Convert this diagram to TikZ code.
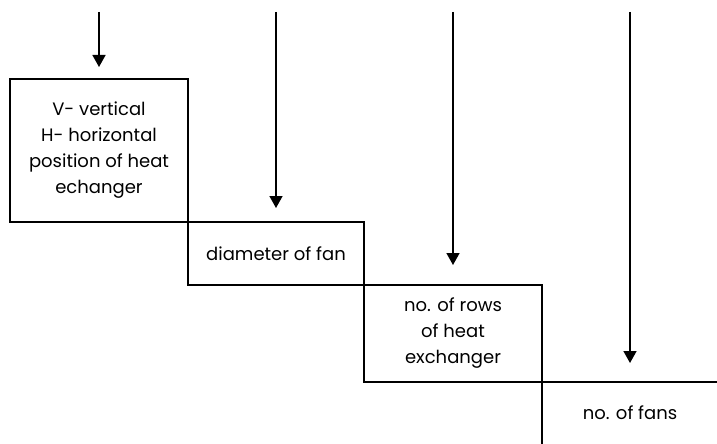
\documentclass[tikz,border=0pt]{standalone}
\usepackage{fontspec}
\setmainfont{Poppins}
\usepackage{tikz}
\usetikzlibrary{arrows.meta}
\usetikzlibrary{positioning}

\begin{document}
\begin{tikzpicture}[x=1pt,y=-1pt,
  line width=1.6pt,
  box/.style={draw,rectangle,align=center,inner sep=0pt,outer sep=0pt,
    font=\fontsize{18}{26}\selectfont},
  feed/.style={-{Triangle[width=13pt,length=12pt]}}]
      \useasboundingbox (0,0) rectangle (717,444);

     \node [box,minimum width=178pt,minimum height=143pt] (pos) at (99,150.5)
       {V- vertical\\H- horizontal\\position of heat\\echanger};
     \node [box,minimum width=176pt,minimum height=63pt,anchor=north west] (dia)
       at (pos.south east) {diameter of fan};
     \node [box,minimum width=178pt,minimum height=97pt,anchor=north west] (rows)
       at (dia.south east) {no. of rows\\of heat\\exchanger};
     \node [box,draw=none,minimum width=176pt,minimum height=62pt,anchor=north west] (fans)
       at (rows.south east) {no. of fans};
     \draw (fans.south west) -- (fans.north west) -- (fans.north east);

     % inputs from above
     \coordinate (in1) at (pos.north |- 0,12);
     \coordinate (in2) at (dia.north |- 0,12);
     \coordinate (in3) at (rows.north |- 0,12);
     \coordinate (in4) at (fans.north |- 0,12);
     \draw[feed,shorten >=12pt] (in1) -- (pos.north);
     \draw[feed,shorten >=14pt] (in2) -- (dia.north);
     \draw[feed,shorten >=20pt] (in3) -- (rows.north);
     \draw[feed,shorten >=19pt] (in4) -- (fans.north);
\end{tikzpicture}
\end{document}
